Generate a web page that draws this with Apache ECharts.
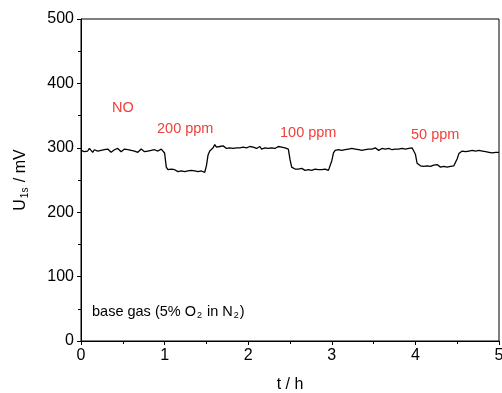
<!DOCTYPE html>
<html>
<head>
<meta charset="utf-8">
<script src="https://cdn.jsdelivr.net/npm/echarts@6/dist/echarts.min.js"></script>
<style>
  html, body { margin: 0; padding: 0; background: #fff; }
  #chart { width: 502px; height: 393px; }
</style>
</head>
<body>
<div id="chart"></div>
<script>
// time in hours, read every 0.02 h
const timeH = [
  0.00,0.02,0.04,0.06,0.08,0.10,0.12,0.14,0.16,0.18,
  0.20,0.22,0.24,0.26,0.28,0.30,0.32,0.34,0.36,0.38,
  0.40,0.42,0.44,0.46,0.48,0.50,0.52,0.54,0.56,0.58,
  0.60,0.62,0.64,0.66,0.68,0.70,0.72,0.74,0.76,0.78,
  0.80,0.82,0.84,0.86,0.88,0.90,0.92,0.94,0.96,0.98,
  1.00,1.02,1.04,1.06,1.08,1.10,1.12,1.14,1.16,1.18,
  1.20,1.22,1.24,1.26,1.28,1.30,1.32,1.34,1.36,1.38,
  1.40,1.42,1.44,1.46,1.48,1.50,1.52,1.54,1.56,1.58,
  1.60,1.62,1.64,1.66,1.68,1.70,1.72,1.74,1.76,1.78,
  1.80,1.82,1.84,1.86,1.88,1.90,1.92,1.94,1.96,1.98,
  2.00,2.02,2.04,2.06,2.08,2.10,2.12,2.14,2.16,2.18,
  2.20,2.22,2.24,2.26,2.28,2.30,2.32,2.34,2.36,2.38,
  2.40,2.42,2.44,2.46,2.48,2.50,2.52,2.54,2.56,2.58,
  2.60,2.62,2.64,2.66,2.68,2.70,2.72,2.74,2.76,2.78,
  2.80,2.82,2.84,2.86,2.88,2.90,2.92,2.94,2.96,2.98,
  3.00,3.02,3.04,3.06,3.08,3.10,3.12,3.14,3.16,3.18,
  3.20,3.22,3.24,3.26,3.28,3.30,3.32,3.34,3.36,3.38,
  3.40,3.42,3.44,3.46,3.48,3.50,3.52,3.54,3.56,3.58,
  3.60,3.62,3.64,3.66,3.68,3.70,3.72,3.74,3.76,3.78,
  3.80,3.82,3.84,3.86,3.88,3.90,3.92,3.94,3.96,3.98,
  4.00,4.02,4.04,4.06,4.08,4.10,4.12,4.14,4.16,4.18,
  4.20,4.22,4.24,4.26,4.28,4.30,4.32,4.34,4.36,4.38,
  4.40,4.42,4.44,4.46,4.48,4.50,4.52,4.54,4.56,4.58,
  4.60,4.62,4.64,4.66,4.68,4.70,4.72,4.74,4.76,4.78,
  4.80,4.82,4.84,4.86,4.88,4.90,4.92,4.94,4.96,4.98,
  5.00
];

// sensor voltage U_1s in mV
const signalMV = [
  296,298,294,297,295,299,296,293,297,296,
  295,298,296,294,297,295,298,296,293,296,
  297,295,299,296,294,296,298,295,297,294,
  296,299,295,297,293,296,298,296,294,297,
  295,298,296,294,297,299,295,296,298,296,
  292,270,266,265,267,264,266,265,263,266,
  264,265,263,266,264,262,265,263,264,262,
  263,261,264,262,262,272,289,295,298,300,
  305,301,299,302,300,303,301,299,302,300,
  301,299,302,300,303,300,298,301,302,300,
  299,302,300,301,303,299,300,302,298,301,
  300,302,299,301,300,303,299,300,302,299,
  301,299,300,302,298,282,270,268,267,269,
  267,266,268,267,265,268,266,267,265,266,
  267,265,266,268,266,265,267,266,265,267,
  280,292,296,298,297,299,296,298,297,299,
  298,296,299,297,298,300,297,298,296,299,
  297,299,298,296,298,297,300,298,296,298,
  299,297,298,296,299,298,297,299,298,296,
  298,297,299,296,298,297,299,298,300,297,
  290,276,273,272,274,271,273,272,274,271,
  272,273,271,274,272,270,273,271,272,270,
  272,271,270,272,270,283,291,294,295,296,
  294,296,295,293,296,294,295,293,296,294,
  295,293,294,296,293,295,292,294,293,295,
  293
];

const noLabels = ['NO', '200 ppm', '100 ppm', '50 ppm'];
const baseGasNote = 'base gas (5% O{sub|2} in N{sub|2})';

const chart = echarts.init(document.getElementById('chart'));
const font = 'Liberation Sans, Arial, sans-serif';
const red = '#f0403a';

chart.setOption({
  animation: false,
  backgroundColor: '#fff',
  grid: {
    left: 81, right: 3, top: 19, bottom: 52,
    containLabel: false, outerBoundsMode: 'none',
    show: true, borderColor: '#000', borderWidth: 1
  },
  xAxis: {
    type: 'value',
    min: 0, max: 5, interval: 1,
    name: 't / h',
    nameLocation: 'middle',
    nameGap: 36,
    nameTextStyle: { fontFamily: font, fontSize: 16, color: '#000' },
    axisLine: { onZero: false, lineStyle: { color: '#000', width: 1 } },
    axisTick: { inside: false, length: 4, lineStyle: { color: '#000' } },
    minorTick: { show: true, splitNumber: 2, length: 3, lineStyle: { color: '#000' } },
    splitLine: { show: false },
    axisLabel: { fontFamily: font, fontSize: 16, color: '#000', margin: 7 }
  },
  yAxis: {
    type: 'value',
    min: 0, max: 500, interval: 100,
    name: 'U{sub|1s} / mV',
    nameLocation: 'middle',
    nameGap: 51,
    nameRotate: 90,
    nameTextStyle: {
      fontFamily: font, fontSize: 16, color: '#000',
      rich: { sub: { fontFamily: font, fontSize: 10, color: '#000', padding: [8, 1, 0, 1] } }
    },
    axisLine: { onZero: false, lineStyle: { color: '#000', width: 1 } },
    axisTick: { inside: false, length: 4, lineStyle: { color: '#000' } },
    minorTick: { show: true, splitNumber: 2, length: 3, lineStyle: { color: '#000' } },
    splitLine: { show: false },
    axisLabel: { fontFamily: font, fontSize: 16, color: '#000', margin: 7 }
  },
  series: [{
    type: 'line',
    data: timeH.map((t, i) => [t, signalMV[i]]),
    showSymbol: false,
    lineStyle: { color: '#000', width: 1.3 },
    silent: true
  }],
  graphic: [
    { type: 'text', left: 112, top: 100, style: { text: noLabels[0], fill: red, font: '14.5px ' + font } },
    { type: 'text', left: 157, top: 121, style: { text: noLabels[1], fill: red, font: '14.5px ' + font } },
    { type: 'text', left: 280, top: 125, style: { text: noLabels[2], fill: red, font: '14.5px ' + font } },
    { type: 'text', left: 411, top: 127, style: { text: noLabels[3], fill: red, font: '14.5px ' + font } },
    {
      type: 'text', left: 92, top: 304,
      style: {
        text: baseGasNote, fill: '#000', font: '14.5px ' + font,
        rich: { sub: { fontSize: 9, fill: '#000', padding: [8, 1, 0, 1] } }
      }
    }
  ]
});
</script>
</body>
</html>
